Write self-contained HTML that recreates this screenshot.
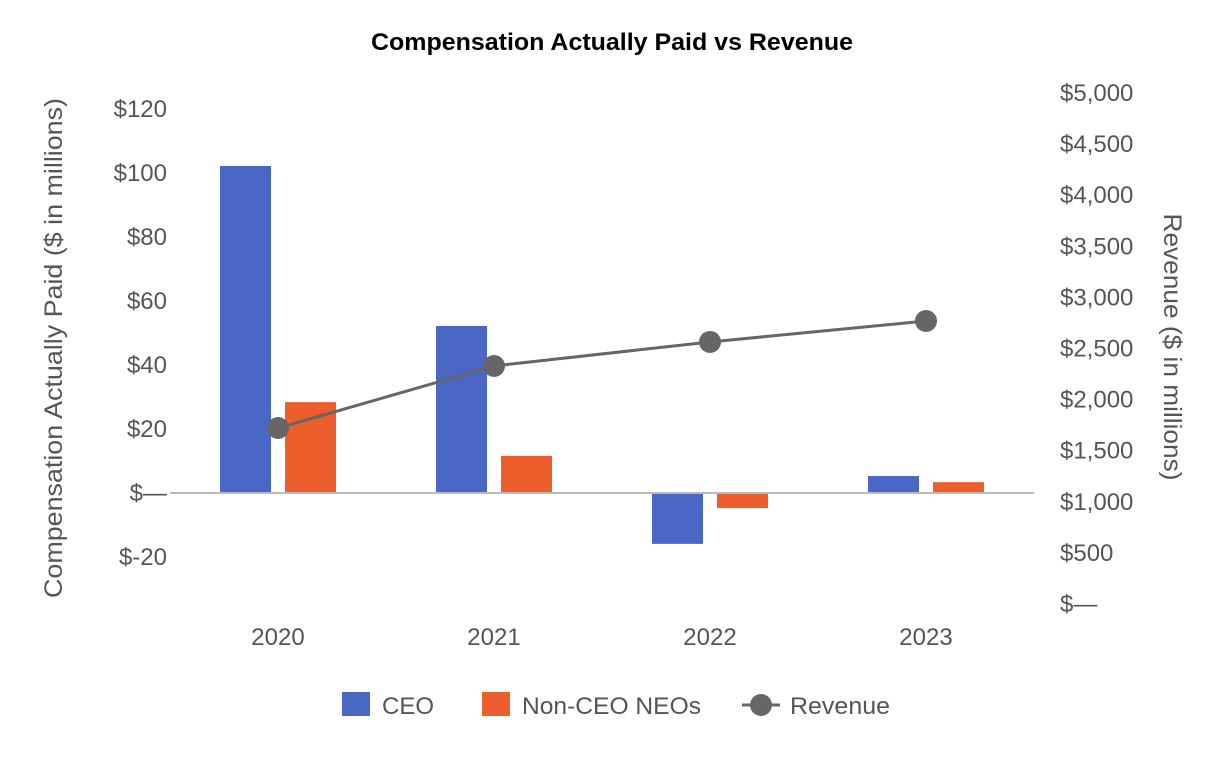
<!DOCTYPE html>
<html><head><meta charset="utf-8"><style>
body{margin:0;background:#fff;font-family:"Liberation Sans",Arial,sans-serif}
svg text{font-family:"Liberation Sans",Arial,sans-serif}
</style></head><body>
<svg id="chart" width="1226" height="760" xmlns="http://www.w3.org/2000/svg">
<text x="612" y="50" text-anchor="middle" font-size="24" font-weight="bold" fill="#000" textLength="482" lengthAdjust="spacingAndGlyphs">Compensation Actually Paid vs Revenue</text>
<text transform="translate(62,348) rotate(-90)" text-anchor="middle" font-size="25" fill="#555" textLength="500" lengthAdjust="spacingAndGlyphs">Compensation Actually Paid ($ in millions)</text>
<text transform="translate(1164,347) rotate(90)" text-anchor="middle" font-size="25" fill="#555" textLength="267" lengthAdjust="spacingAndGlyphs">Revenue ($ in millions)</text>
<g id="leftTicks"></g>
<g id="rightTicks"></g>
<g id="bars"></g>
<line x1="170" x2="1034" y1="493" y2="493" stroke="#bbb" stroke-width="2"/>
<g id="line"></g>
<g id="xlabels"></g>
<g>
<rect x="342" y="692" width="28" height="24" fill="#4a67c6"/>
<text x="382" y="714" font-size="24" fill="#555">CEO</text>
<rect x="482" y="692" width="28" height="24" fill="#ec5e2b"/>
<text x="522" y="714" font-size="24" fill="#555" textLength="179" lengthAdjust="spacingAndGlyphs">Non-CEO NEOs</text>
<line x1="742" x2="780" y1="705" y2="705" stroke="#666" stroke-width="3"/>
<circle cx="761" cy="705" r="11" fill="#666"/>
<text x="790" y="714" font-size="24" fill="#555" textLength="100" lengthAdjust="spacingAndGlyphs">Revenue</text>
</g>
</svg>
<script>
const categories=["2020","2021","2022","2023"];
const ceoValues=[102.2,52.2,-15.9,5.3];
const nonCeoValues=[28.4,11.6,-4.7,3.4];
const revenueValues=[1722,2329,2564,2769];
const leftTickValues=[120,100,80,60,40,20,0,-20];
const leftTickLabels=["$120","$100","$80","$60","$40","$20","$—","$-20"];
const rightTickValues=[5000,4500,4000,3500,3000,2500,2000,1500,1000,500,0];
const rightTickLabels=["$5,000","$4,500","$4,000","$3,500","$3,000","$2,500","$2,000","$1,500","$1,000","$500","$—"];
const NS="http://www.w3.org/2000/svg";
const yL=v=>493-v*3.2;
const yR=v=>604-v*(511/5000);
const xC=i=>278+i*216;
function mk(tag,attrs,parent){const e=document.createElementNS(NS,tag);for(const k in attrs)e.setAttribute(k,attrs[k]);parent.appendChild(e);return e;}
const lt=document.getElementById('leftTicks');
leftTickValues.forEach((v,i)=>{const t=mk('text',{x:167,y:yL(v)+8,'text-anchor':'end','font-size':24,fill:'#555'},lt);t.textContent=leftTickLabels[i];

});
const rt=document.getElementById('rightTicks');
rightTickValues.forEach((v,i)=>{const t=mk('text',{x:1060,y:yR(v)+8,'font-size':24,fill:'#555'},rt);t.textContent=rightTickLabels[i];

});
const bg=document.getElementById('bars');
categories.forEach((c,i)=>{
 const a=ceoValues[i],b=nonCeoValues[i];
 const r1=mk('rect',{x:xC(i)-58,y:Math.min(yL(a),yL(0)),width:51,height:Math.abs(yL(a)-yL(0)),fill:'#4a67c6'},bg);
 
 
 const r2=mk('rect',{x:xC(i)+7,y:Math.min(yL(b),yL(0)),width:51,height:Math.abs(yL(b)-yL(0)),fill:'#ec5e2b'},bg);
 
 
 const t=mk('text',{x:xC(i),y:645,'text-anchor':'middle','font-size':24,fill:'#555'},document.getElementById('xlabels'));
 t.textContent=c;
 
 
});
const lg=document.getElementById('line');
const pl=mk('polyline',{points:revenueValues.map((v,i)=>xC(i)+','+yR(v)).join(' '),fill:'none',stroke:'#666','stroke-width':3},lg);


revenueValues.forEach((v,i)=>{const c=mk('circle',{cx:xC(i),cy:yR(v),r:11,fill:'#666'},lg);

});
</script>
</body></html>
